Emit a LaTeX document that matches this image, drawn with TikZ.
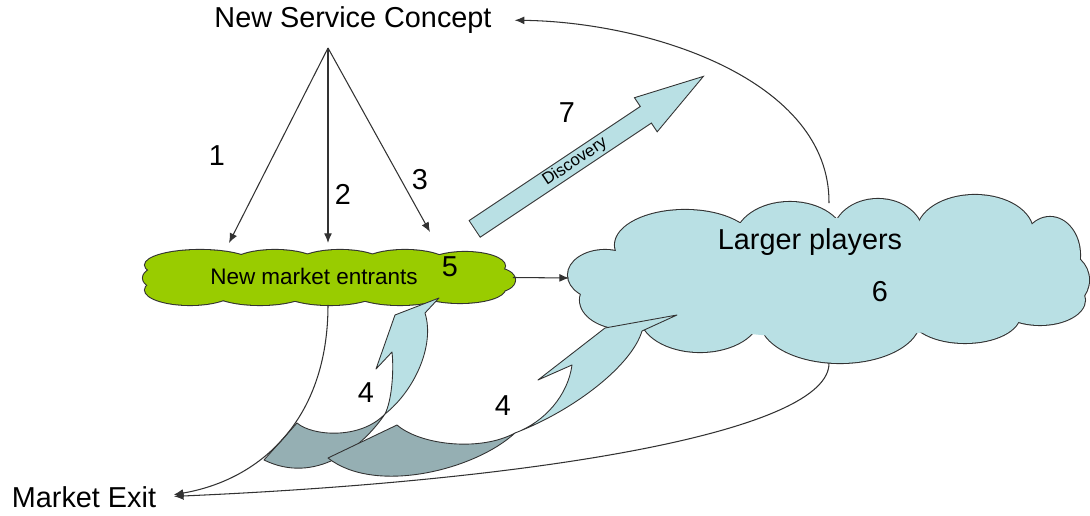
\documentclass[tikz,border=0pt]{standalone}
\usepackage{fontspec}
\setmainfont{Liberation Sans}
\usetikzlibrary{arrows.meta,shapes.arrows,positioning}

\definecolor{leafgreen}{RGB}{153,204,0}
\definecolor{paleblue}{RGB}{185,224,228}
\definecolor{shadeblue}{RGB}{149,175,179}
\definecolor{edgegray}{RGB}{50,50,50}

\tikzset{
  txt/.style={font=\fontsize{16.4}{19}\selectfont, inner sep=2pt},
  link/.style={draw=edgegray, line width=0.6pt, -{Latex[length=5.5pt,width=4.5pt]}},
  puffline/.style={draw=edgegray, line width=1.2pt},
  band/.style={draw=edgegray, line width=0.5pt, line join=round},
  area/.style={inner sep=0pt, outer sep=0pt},
}

\begin{document}
\begin{tikzpicture}[x=0.02cm, y=-0.02cm]
  \useasboundingbox (0,0) rectangle (1090,516);

  % green cloud
  \node [area, minimum width=7.4cm, minimum height=1.1cm] (entrants) at (328,277.5) {};
  \foreach \cx/\cy/\rx/\ry in {165/278/22/12, 495/280/20/12,
      200/265/55/15, 275/265/45/15, 340/265/45/15, 405/265/45/15, 465/266/40/14,
      190/290/45/15, 260/290/50/15, 330/290/50/15, 400/290/50/15, 460/289/45/14}
    \draw [puffline] (\cx,\cy) ellipse [x radius=\rx, y radius=\ry];
  \foreach \cx/\cy/\rx/\ry in {165/278/22/12, 495/280/20/12,
      200/265/55/15, 275/265/45/15, 340/265/45/15, 405/265/45/15, 465/266/40/14,
      190/290/45/15, 260/290/50/15, 330/290/50/15, 400/290/50/15, 460/289/45/14,
      328/277/160/20}
    \fill [leafgreen] (\cx,\cy) ellipse [x radius=\rx, y radius=\ry];

  % blue cloud
  \node [area, minimum width=10.4cm, minimum height=3.4cm] (players) at (829,278) {};
  \foreach \cx/\cy/\rx/\ry in {685/245/70/35, 790/240/55/38, 878/235/45/36, 975/232/58/37,
      1050/255/30/38, 1060/280/29/28, 1040/300/45/25, 965/315/55/28, 840/320/80/43,
      700/315/60/37, 625/300/45/29, 605/275/37/25}
    \draw [puffline] (\cx,\cy) ellipse [x radius=\rx, y radius=\ry];
  \foreach \cx/\cy/\rx/\ry in {685/245/70/35, 790/240/55/38, 878/235/45/36, 975/232/58/37,
      1050/255/30/38, 1060/280/29/28, 1040/300/45/25, 965/315/55/28, 840/320/80/43,
      700/315/60/37, 625/300/45/29, 605/275/37/25, 830/278/220/60}
    \fill [paleblue] (\cx,\cy) ellipse [x radius=\rx, y radius=\ry];

  % curved arrows (4)
  \filldraw [band, fill=shadeblue] (297,423) .. controls (312,436) and (360,440) .. (385,414)
    .. controls (362,448) and (315,485) .. (264,460) -- cycle;
  \filldraw [band, fill=paleblue] (385,414) .. controls (392,400) and (394,370) .. (392,352)
    -- (376,369) -- (395,315) -- (439,298) -- (425,313)
    .. controls (435,345) and (415,390) .. (385,414) -- cycle;
  \filldraw [band, fill=shadeblue] (397,425) .. controls (420,445) and (480,452) .. (515,433)
    .. controls (475,470) and (375,495) .. (328,458) -- cycle;
  \filldraw [band, fill=paleblue] (515,433) .. controls (545,422) and (568,395) .. (572,365)
    -- (538,380) -- (605,328) -- (677,315) -- (642,331)
    .. controls (632,365) and (575,410) .. (515,433) -- cycle;

  % discovery arrow
  \node [single arrow, draw=edgegray, line width=0.5pt, fill=paleblue, rotate=33.7,
    minimum height=5.5cm, minimum width=0.82cm, single arrow head extend=0.21cm,
    single arrow tip angle=33, inner sep=1pt, font=\fontsize{9.5}{11}\selectfont] (discovery) at (575,162) {Discovery};

  % texts
  \node [txt] (concept) at (353,20) {New Service Concept};
  \node [txt] (exit) at (84,497) {Market Exit};
  \node [txt, font=\fontsize{12.8}{15}\selectfont] (entrantstxt) at (314,276) {New market entrants};
  \node [txt] (playerstxt) at (810,242) {Larger players};

  \node [txt] (n1) at (217,156) {1};
  \node [txt] (n2) at (343,194) {2};
  \node [txt] (n3) at (420,180) {3};
  \node [txt] (n4a) at (366,393) {4};
  \node [txt] (n4b) at (503,406) {4};
  \node [txt] (n5) at (450,267) {5};
  \node [txt] (n6) at (880,292) {6};
  \node [txt] (n7) at (567,113) {7};

  % connectors
  \coordinate (apex) at (328,48);
  \coordinate (hit1) at (229,243);
  \coordinate (hit2) at (328,243);
  \coordinate (hit3) at (430,232);
  \draw [link] (apex) -- (hit1);
  \draw [link] (apex) -- (hit2);
  \draw [link] (apex) -- (hit3);
  \draw [link] (entrants.east) -- (players.west);
  \draw [link, shorten >=11pt] ([yshift=-0.2cm]players.north) .. controls (830,80) and (650,22) .. (concept.east);
  \draw [link, shorten >=8pt] (entrants.south) .. controls (328,420) and (260,480) .. (exit.east);
  \draw [link, shorten >=8pt] (players.south) .. controls (830,430) and (550,480) .. (exit.east);
\end{tikzpicture}
\end{document}
